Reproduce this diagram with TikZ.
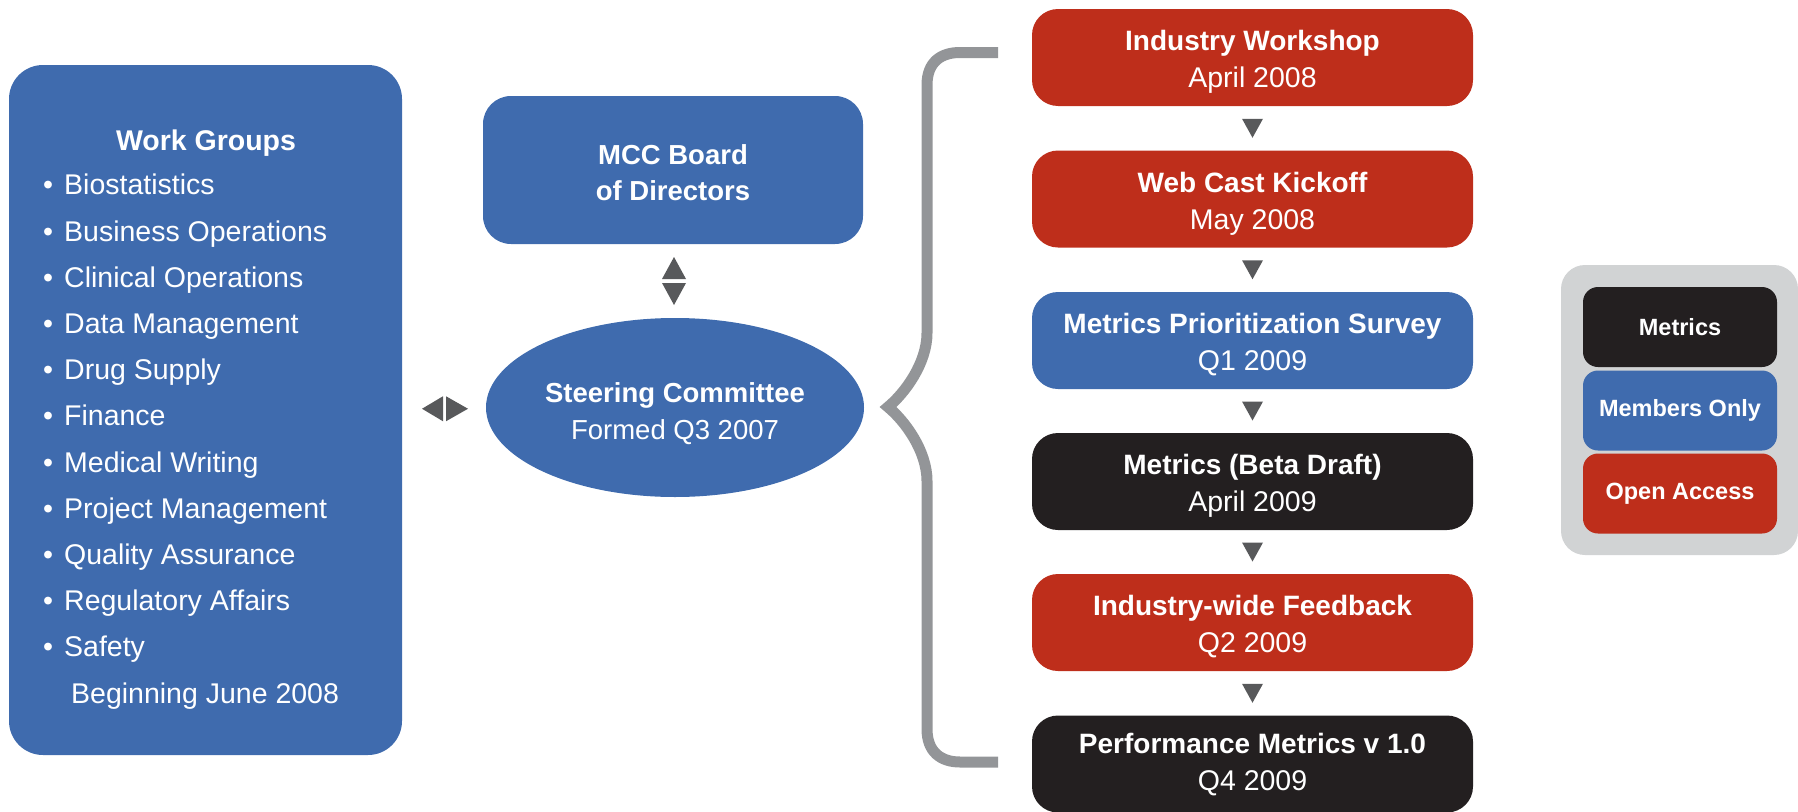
\documentclass[tikz,border=0pt]{standalone}
\usepackage{fontspec}
\setmainfont{Liberation Sans}
\usetikzlibrary{shapes.geometric,calc}
\definecolor{mblue}{HTML}{3F6BAE}
\definecolor{mred}{HTML}{BE2E1B}
\definecolor{mblack}{HTML}{231F20}
\definecolor{agray}{HTML}{58595B}
\definecolor{bgray}{HTML}{939598}
\definecolor{lgray}{HTML}{D1D3D4}
\newcommand{\stt}[1]{{\fontsize{28}{37}\selectfont\bfseries #1}}
\newcommand{\std}[1]{{\fontsize{28.5}{37}\selectfont #1}}
\tikzset{
  stagebox/.style={rectangle, rounded corners=26pt, minimum width=441pt, minimum height=97pt, inner sep=0pt},
  stagetext/.style={inner sep=0pt, text=white, align=center, font=\fontsize{28}{37}\selectfont},
  legbox/.style={rectangle, rounded corners=15pt, minimum width=194pt, minimum height=80pt, inner sep=0pt, text=white, font=\fontsize{23.5}{28}\selectfont\bfseries},
  wgtext/.style={inner sep=0pt, text=white, font=\fontsize{28.5}{34}\selectfont},
  tri/.style={fill=agray},
  bracestyle/.style={draw=bgray, line width=11pt, line join=miter}
}
\begin{document}
\begin{tikzpicture}[x=1pt,y=-1pt]
\useasboundingbox (0,0) rectangle (1798,811);

% Work groups
\node[rectangle, rounded corners=34pt, fill=mblue, minimum width=393pt, minimum height=690pt, inner sep=0pt] (wg) at (205.5,410) {};
\node[wgtext, font=\fontsize{28.5}{34}\selectfont\bfseries, anchor=base] (wgtitle) at (206,150) {Work Groups};
\foreach \t [count=\i] in {Biostatistics,Business Operations,Clinical Operations,Data Management,Drug Supply,Finance,Medical Writing,Project Management,Quality Assurance,Regulatory Affairs,Safety}{
  \node[wgtext, anchor=base west] (wgi\i) at (64,{194.8+46.2*(\i-1)}) {\t};
  \node[wgtext, anchor=base] (wgb\i) at (48,{194.8+46.2*(\i-1)}) {\textbullet};
}
\node[wgtext, anchor=base west] (wgbeg) at (71,703) {Beginning June 2008};

% MCC board and steering committee
\node[rectangle, rounded corners=28pt, fill=mblue, minimum width=380pt, minimum height=148pt, inner sep=0pt] (mcc) at (673,170) {};
\node[inner sep=0pt, text=white, align=center, font=\fontsize{27.5}{35.5}\selectfont\bfseries] (mcct) at ($(mcc.center)+(0,2.6)$) {MCC Board\\of Directors};
\node[ellipse, fill=mblue, minimum width=378pt, minimum height=179pt, inner sep=0pt] (sc) at (675,407.5) {};
\node[inner sep=0pt, text=white, align=center, font=\fontsize{27.5}{37}\selectfont] (sct) at ($(sc.center)+(0,6.5)$) {\textbf{Steering Committee}\\Formed Q3 2007};

\coordinate (ud) at ($(mcc.south)!0.5!(sc.north)$);
\fill[tri] (ud) ++(-12,-2) -- ++(24,0) -- ++(-12,-22) -- cycle;
\fill[tri] (ud) ++(-12,2) -- ++(24,0) -- ++(-12,22) -- cycle;

\coordinate (lr) at ($(wg.east)!0.5!(sc.west)$);
\fill[tri] (lr) ++(-1,-12.5) -- ++(0,25) -- ++(-21,-12.5) -- cycle;
\fill[tri] (lr) ++(2,-12.5) -- ++(0,25) -- ++(22,-12.5) -- cycle;

% Stages
\node[stagebox, fill=mred] (s1) at (1252.5,57.5) {};
\node[stagebox, fill=mred] (s2) at (1252.5,199) {};
\node[stagebox, fill=mblue] (s3) at (1252.5,340.5) {};
\node[stagebox, fill=mblack] (s4) at (1252.5,481.5) {};
\node[stagebox, fill=mred] (s5) at (1252.5,622.5) {};
\node[stagebox, fill=mblack] (s6) at (1252.5,764) {};
\node[stagetext] (s1t) at ($(s1.center)+(0,4.5)$) {\stt{Industry Workshop}\\\std{April 2008}};
\node[stagetext] (s2t) at ($(s2.center)+(0,4.5)$) {\stt{Web Cast Kickoff}\\\std{May 2008}};
\node[stagetext] (s3t) at ($(s3.center)+(0,4.5)$) {\stt{Metrics Prioritization Survey}\\\std{Q1 2009}};
\node[stagetext] (s4t) at ($(s4.center)+(0,4.5)$) {\stt{Metrics (Beta Draft)}\\\std{April 2009}};
\node[stagetext] (s5t) at ($(s5.center)+(0,4.5)$) {\stt{Industry-wide Feedback}\\\std{Q2 2009}};
\node[stagetext] (s6t) at ($(s6.center)+(0,1)$) {\stt{Performance Metrics v 1.0}\\\std{Q4 2009}};

\foreach \a/\b in {s1/s2,s2/s3,s3/s4,s4/s5,s5/s6}{
  \coordinate (m\a) at ($(\a.south)!0.5!(\b.north)$);
  \fill[tri] (m\a) ++(-10.5,-9.5) -- ++(21,0) -- ++(-10.5,19) -- cycle;
}

% Brace
\draw[bracestyle] (998,52.5) -- (960,52.5) .. controls (941,52.5) and (927,62) .. (927,85) -- (927,333) .. controls (927,363) and (905,393) .. (888,407) .. controls (905,421) and (927,451) .. (927,481) -- (927,729) .. controls (927,752) and (941,762) .. (960,762) -- (998,762);

% Legend
\node[rectangle, rounded corners=24pt, fill=lgray, minimum width=237pt, minimum height=290pt, inner sep=0pt] (leg) at (1679.5,410) {};
\node[legbox, fill=mblack] (lm) at (1680,327) {Metrics};
\node[legbox, fill=mblue] (lmo) at (1680,410.5) {Members Only};
\node[legbox, fill=mred] (loa) at (1680,493.5) {Open Access};
\end{tikzpicture}
\end{document}
